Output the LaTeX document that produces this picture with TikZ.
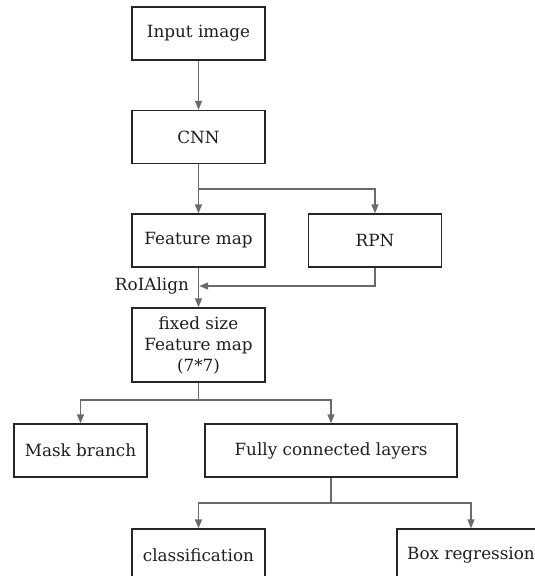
\documentclass[tikz,border=0pt]{standalone}
\usepackage{fontspec}
\setmainfont{DejaVu Serif}
\usetikzlibrary{arrows.meta,positioning}
\definecolor{linegray}{HTML}{6A6A6A}
\definecolor{textdark}{HTML}{1E1E1E}
\tikzset
{
    blocknode/.style = {rectangle, draw=black!85, line width=1.3pt, align=center, text=textdark, minimum width=133pt, minimum height=53pt, inner sep=2pt, font=\fontsize{16.8}{21}\selectfont},
    widenode/.style  = {blocknode, minimum width=252pt},
    flowline/.style  = {draw=linegray, line width=1.3pt},
    flowarrow/.style = {flowline, -{Triangle[length=9pt,width=7pt]}}
}

\begin{document}
\begin{tikzpicture}[x=1pt, y=-1pt]
\useasboundingbox (0,0) rectangle (535,576);
\clip (0,0) rectangle (535,576);
% main column
\node[blocknode] (input) at (198.5,33.5) {Input image};
\node[blocknode] (cnn) at (198.5,137) {CNN};
\node[blocknode] (fmap) at (198.5,240.5) {Feature map};
\node[blocknode] (rpn) at (375,240.5) {RPN};
\node[blocknode, minimum height=74pt] (fixed) at (198.5,345) {fixed size\\Feature map\\(7*7)};
\node[blocknode] (mask) at (80.5,450.5) {Mask branch};
\node[widenode] (fc) at (331,450.5) {Fully connected layers};
\node[blocknode] (cls) at (198.5,555.5) {classification};
\node[blocknode, minimum width=148pt] (boxreg) at (471,555.5) {Box regression};
% branch points
\coordinate (cnnsplit) at (198.5,189);
\coordinate (roimerge) at (198.5,286);
\coordinate (fixedsplit) at (198.5,400);
\coordinate (fcsplit) at (331,503);
% connectors
\draw[flowarrow] (input) -- (cnn);
\draw[flowarrow] (cnn) -- (fmap);
\draw[flowarrow] (cnnsplit) -| (rpn);
\draw[flowarrow] (fmap) -- node[pos=0.47, left, text=textdark, font=\fontsize{16.8}{20}\selectfont, inner sep=9pt] {RoIAlign} (fixed);
\draw[flowarrow] (rpn) |- ([xshift=0.7pt]roimerge);
\draw[flowarrow] (fixed.south) -- (fixedsplit) -| (mask);
\draw[flowarrow] (fixedsplit) -| (fc);
\draw[flowarrow] (fc.south) -- (fcsplit) -| (cls);
\draw[flowarrow] (fcsplit) -| (boxreg);
\end{tikzpicture}
\end{document}
